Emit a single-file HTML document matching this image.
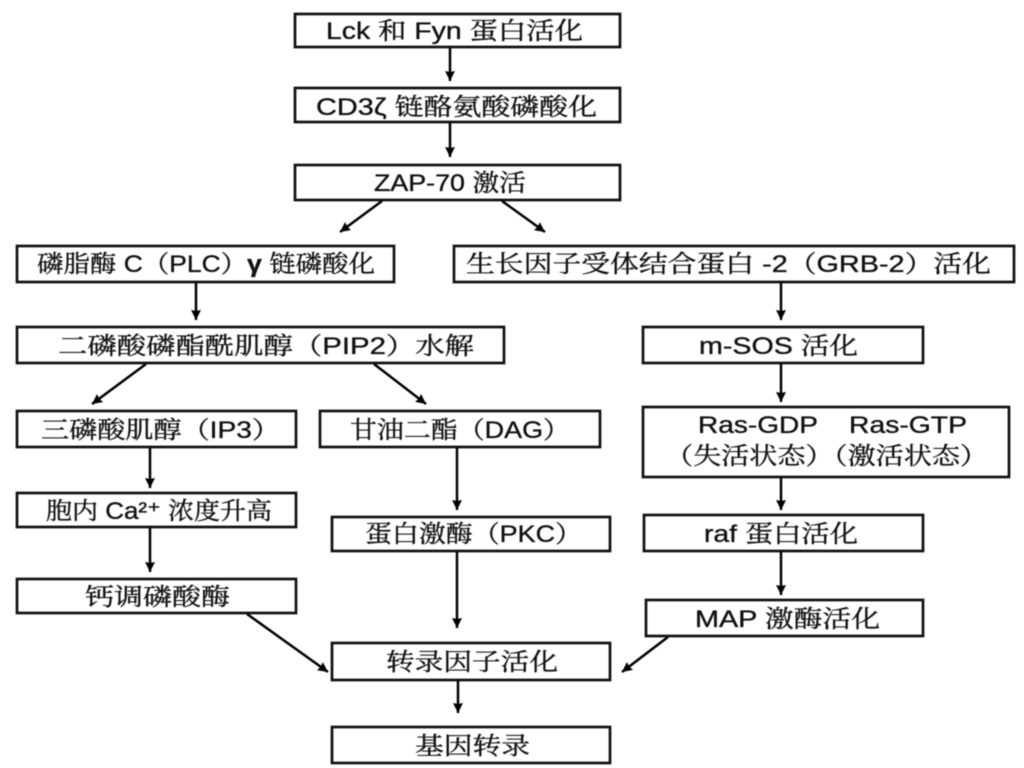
<!DOCTYPE html>
<html>
<head>
<meta charset="utf-8">
<style>
html,body{margin:0;padding:0;background:#fff;width:1024px;height:768px;overflow:hidden}
svg{display:block;filter:blur(0.55px)}
rect{fill:#fff;stroke:#111;stroke-width:2.7}
line{stroke:#000;stroke-width:2.5;marker-end:url(#a)}
text{font-family:"Liberation Sans","Noto Serif CJK SC",serif;font-size:24px;fill:#111;stroke:#111;stroke-width:.35}
</style>
</head>
<body>
<svg width="1024" height="768" viewBox="0 0 1024 768" xmlns="http://www.w3.org/2000/svg">
<defs>
<marker id="a" markerUnits="userSpaceOnUse" markerWidth="14" markerHeight="12" refX="10" refY="5" orient="auto">
<path d="M0 0L10 5L0 10L1 5Z" fill="#000"/>
</marker>
</defs>

<rect x="295" y="14" width="325" height="33"/>
<rect x="295" y="88" width="325" height="34"/>
<rect x="295" y="165" width="325" height="35"/>
<rect x="17" y="246" width="377" height="36"/>
<rect x="454" y="246" width="560" height="36"/>
<rect x="17" y="327" width="487" height="36"/>
<rect x="643" y="327" width="280" height="36"/>
<rect x="17" y="411" width="279" height="36"/>
<rect x="320" y="411" width="280" height="36"/>
<rect x="643" y="407" width="366" height="70"/>
<rect x="17" y="493" width="279" height="34"/>
<rect x="332" y="517" width="278" height="34"/>
<rect x="644" y="515" width="279" height="36"/>
<rect x="17" y="579" width="279" height="34"/>
<rect x="646" y="600" width="277" height="36"/>
<rect x="332" y="643" width="278" height="37"/>
<rect x="332" y="727" width="278" height="36"/>

<line x1="450" y1="48" x2="450" y2="81"/>
<line x1="450" y1="123" x2="450" y2="157"/>
<line x1="382" y1="201" x2="340" y2="232"/>
<line x1="502" y1="201" x2="545" y2="232"/>
<line x1="196" y1="283" x2="196" y2="320"/>
<line x1="781" y1="283" x2="781" y2="320"/>
<line x1="146" y1="364" x2="92" y2="404"/>
<line x1="374" y1="364" x2="426" y2="404"/>
<line x1="781" y1="364" x2="781" y2="402"/>
<line x1="150" y1="448" x2="150" y2="488"/>
<line x1="457" y1="448" x2="457" y2="510"/>
<line x1="781" y1="478" x2="781" y2="510"/>
<line x1="150" y1="528" x2="150" y2="572"/>
<line x1="457" y1="552" x2="457" y2="628"/>
<line x1="781" y1="552" x2="781" y2="595"/>
<line x1="247" y1="614" x2="328" y2="672"/>
<line x1="668" y1="637" x2="622" y2="672"/>
<line x1="458" y1="681" x2="458" y2="713"/>

<text x="326" y="39" textLength="257" lengthAdjust="spacingAndGlyphs">Lck 和 Fyn 蛋白活化</text>
<text x="316" y="115" textLength="281" lengthAdjust="spacingAndGlyphs">CD3ζ 链酪氨酸磷酸化</text>
<text x="374" y="191" textLength="152" lengthAdjust="spacingAndGlyphs">ZAP-70 激活</text>
<text x="37" y="272" textLength="338" lengthAdjust="spacingAndGlyphs">磷脂酶 C（PLC）<tspan font-weight="bold">γ</tspan> 链磷酸化</text>
<text x="466" y="272" textLength="525" lengthAdjust="spacingAndGlyphs">生长因子受体结合蛋白 -2（GRB-2）活化</text>
<text x="58" y="354" textLength="416" lengthAdjust="spacingAndGlyphs">二磷酸磷酯酰肌醇（PIP2）水解</text>
<text x="699" y="354" textLength="159" lengthAdjust="spacingAndGlyphs">m-SOS 活化</text>
<text x="41" y="438" textLength="239" lengthAdjust="spacingAndGlyphs">三磷酸肌醇（IP3）</text>
<text x="350" y="438" textLength="220" lengthAdjust="spacingAndGlyphs">甘油二酯（DAG）</text>
<text x="698" y="433" textLength="120" lengthAdjust="spacingAndGlyphs">Ras-GDP</text>
<text x="849" y="433" textLength="118" lengthAdjust="spacingAndGlyphs">Ras-GTP</text>
<text x="665" y="464" textLength="323" lengthAdjust="spacingAndGlyphs">（失活状态）（激活状态）</text>
<text x="46" y="519" textLength="226" lengthAdjust="spacingAndGlyphs">胞内 Ca²⁺ 浓度升高</text>
<text x="365" y="542" textLength="217" lengthAdjust="spacingAndGlyphs">蛋白激酶（PKC）</text>
<text x="704" y="542" textLength="154" lengthAdjust="spacingAndGlyphs">raf 蛋白活化</text>
<text x="85" y="605" textLength="145" lengthAdjust="spacingAndGlyphs">钙调磷酸酶</text>
<text x="695" y="627" textLength="185" lengthAdjust="spacingAndGlyphs">MAP 激酶活化</text>
<text x="386" y="670" textLength="172" lengthAdjust="spacingAndGlyphs">转录因子活化</text>
<text x="415" y="754" textLength="115" lengthAdjust="spacingAndGlyphs">基因转录</text>
</svg>
</body>
</html>
